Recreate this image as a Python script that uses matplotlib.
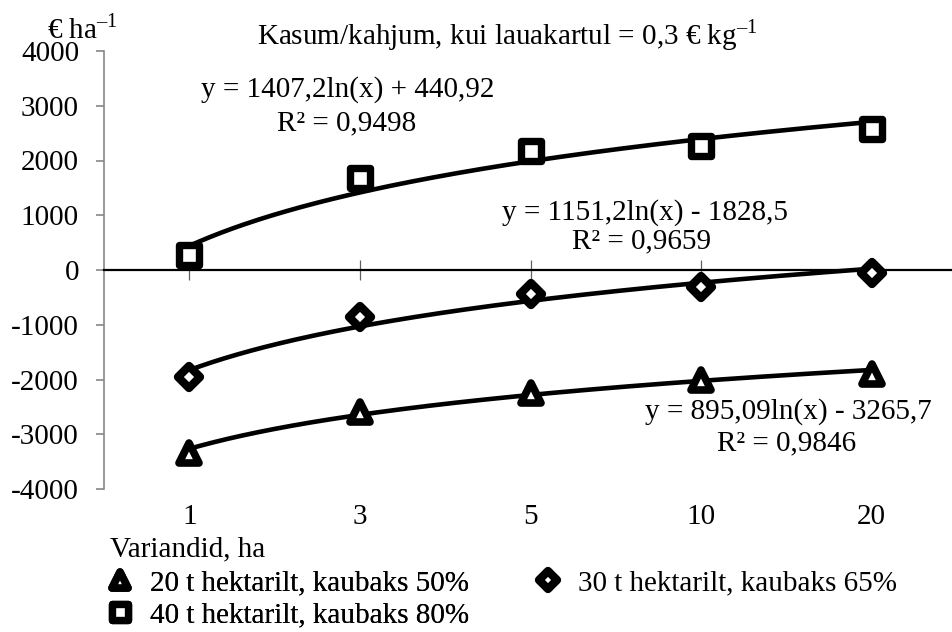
import numpy as np
import matplotlib
matplotlib.use('Agg')
import matplotlib.pyplot as plt
from matplotlib.markers import MarkerStyle

plt.rcParams['font.family'] = ['Liberation Serif', 'DejaVu Serif']
plt.rcParams['mathtext.fontset'] = 'custom'
plt.rcParams['mathtext.rm'] = 'Liberation Serif'
plt.rcParams['axes.unicode_minus'] = False

# ---- data ----
categories = ['1', '3', '5', '10', '20']
tri_vals = [-3343, -2588, -2240, -2009, -1906]
dia_vals = [-1948, -865, -438, -305, -55]
sq_vals = [274, 1675, 2173, 2265, 2575]
series_labels = ['20 t hektarilt, kaubaks 50%',
                 '30 t hektarilt, kaubaks 65%',
                 '40 t hektarilt, kaubaks 80%']
trend_a = [895.09, 1151.2, 1407.2]
trend_b = [-3265.7, -1828.5, 440.92]
eq_texts = ['y = 895,09ln(x) - 3265,7',
            'y = 1151,2ln(x) - 1828,5',
            'y = 1407,2ln(x) + 440,92']
r2_texts = ['R² = 0,9846', 'R² = 0,9659', 'R² = 0,9498']
y_ticks = [-4000, -3000, -2000, -1000, 0, 1000, 2000, 3000, 4000]
y_tick_labels = ['-4000', '-3000', '-2000', '-1000', '0', '1000', '2000', '3000', '4000']
title_text = 'Kasum/kahjum, kui lauakartul = 0,3 € kg$^{\\mathregular{–1}}$'
y_unit_text = '€ ha$^{\\mathregular{–1}}$'
x_title = 'Variandid, ha'

FS = 21
W, H = 953, 632
fig = plt.figure(figsize=(W / 100, H / 100), dpi=100)
ax = fig.add_axes([104 / W, 1 - 489 / H, 853 / W, 438 / H])

x = np.arange(1, len(categories) + 1)
ax.set_xlim(0.5, len(categories) + 0.5)
ax.set_ylim(-4000, 4000)

# trend lines
xx = np.linspace(1, len(categories), 300)
for a, b in zip(trend_a, trend_b):
    ax.plot(xx, a * np.log(xx) + b, color='black', lw=3.3, solid_capstyle='round', zorder=3)

# data markers
h_tri, = ax.plot(x, tri_vals, ls='none', marker=MarkerStyle('^', joinstyle='round'),
                 ms=14.5, mew=5.5, mec='black', mfc='white', label=series_labels[0], zorder=4)
h_dia, = ax.plot(x, dia_vals, ls='none', marker=MarkerStyle('D', joinstyle='round'),
                 ms=11, mew=6, mec='black', mfc='white', label=series_labels[1], zorder=4)
h_sq, = ax.plot(x, sq_vals, ls='none', marker=MarkerStyle('s', joinstyle='round'),
                ms=14, mew=5.3, mec='black', mfc='white', label=series_labels[2], zorder=4)

# spines / axes
for s in ('top', 'right'):
    ax.spines[s].set_visible(False)
ax.spines['left'].set_color('#868686')
ax.spines['left'].set_linewidth(1.2)
ax.spines['bottom'].set_position(('data', 0))
ax.spines['bottom'].set_color('black')
ax.spines['bottom'].set_linewidth(1.6)
ax.set_xticks(x)
ax.set_xticklabels([])
ax.tick_params(axis='x', direction='inout', length=14, width=0.9, color='#606060')
ax.set_yticks(y_ticks)
ax.set_yticklabels(y_tick_labels, fontsize=FS)
ax.tick_params(axis='y', direction='out', length=6, width=1.2, color='#868686', pad=12)

sec = ax.secondary_xaxis('bottom')
sec.set_xticks(x, labels=categories)
sec.spines['bottom'].set_visible(False)
sec.tick_params(length=0, pad=11, labelsize=FS)

# equations
ax.text(1.93, 3300, eq_texts[2], fontsize=FS, ha='center', va='center')
ax.text(1.92, 2680, r2_texts[2], fontsize=FS, ha='center', va='center')
ax.text(3.67, 1050, eq_texts[1], fontsize=FS, ha='center', va='center')
ax.text(3.65, 520, r2_texts[1], fontsize=FS, ha='center', va='center')
ax.text(4.51, -2590, eq_texts[0], fontsize=FS, ha='center', va='center')
ax.text(4.50, -3170, r2_texts[0], fontsize=FS, ha='center', va='center')

# title & unit
fig.text(507 / W, 1 - 35 / H, title_text, fontsize=FS, ha='center', va='center')
fig.text(82 / W, 1 - 29 / H, y_unit_text, fontsize=FS, ha='center', va='center')
fig.text(110 / W, 1 - 549 / H, x_title, fontsize=FS, ha='left', va='center')

# legends
leg_kw = dict(loc='upper left', frameon=False, fontsize=FS, borderpad=0, borderaxespad=0,
              handlelength=1.0, handletextpad=0.55, labelspacing=0.2, markerscale=0.8)
leg1 = fig.legend(handles=[h_tri, h_sq], bbox_to_anchor=(105 / W, 1 - 570 / H), **leg_kw)
leg2 = fig.legend(handles=[h_dia], bbox_to_anchor=(533 / W, 1 - 570 / H), **leg_kw)
fig.add_artist(leg1)

fig.savefig('out.png', dpi=100)
